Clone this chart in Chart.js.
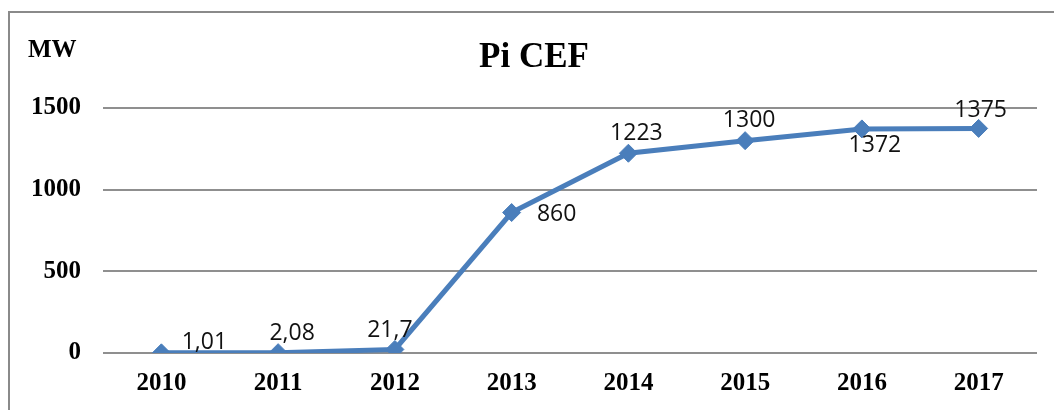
<!DOCTYPE html>
<html>
<head>
<meta charset="utf-8">
<title>Pi CEF</title>
<script src="https://cdn.jsdelivr.net/npm/chart.js@4/dist/chart.umd.min.js"></script>
<style>
  html, body { margin: 0; padding: 0; background: #fff; }
  canvas { display: block; }
</style>
</head>
<body>
<canvas id="cef-chart" width="1054" height="410"></canvas>
<script>
// installed capacity, MW
const years = ["2010", "2011", "2012", "2013", "2014", "2015", "2016", "2017"];
const capacity = [1.01, 2.08, 21.7, 860, 1223, 1300, 1372, 1375];
const yTicks = [0, 500, 1000, 1500];

// where each value label sits relative to its point (dx, dy in px)
const labelShift = [[43, -10], [14, -19], [-5, -19], [45, 2], [8, -20], [4, -20], [13, 17], [2, -18]];

const serif = "'Liberation Serif', 'Times New Roman', serif";
const lineBlue = "#4a7ebb";

// frame around the whole chart (runs off the right and bottom edge)
const framePlugin = {
    id: "frame",
    beforeDraw(chart) {
        const ctx = chart.ctx;
        ctx.save();
        ctx.fillStyle = "#fff";
        ctx.fillRect(0, 0, chart.width, chart.height);
        ctx.strokeStyle = "#8a8a8a";
        ctx.lineWidth = 2;
        ctx.strokeRect(9, 12, chart.width + 20, chart.height + 20);
        ctx.restore();
    }
};

// "MW" unit above the value axis + the value labels next to each point
const labelPlugin = {
    id: "pointLabels",
    afterDatasetsDraw(chart) {
        const ctx = chart.ctx;
        const area = chart.chartArea;
        ctx.save();
        ctx.fillStyle = "#000";
        ctx.font = "bold 25px " + serif;
        ctx.textAlign = "left";
        ctx.textBaseline = "alphabetic";
        ctx.fillText("MW", area.left - 75, area.top - 51);

        ctx.font = "23px 'Open Sans', 'Liberation Sans', sans-serif";
        ctx.textAlign = "center";
        ctx.textBaseline = "middle";
        ctx.fillStyle = "#111";
        const meta = chart.getDatasetMeta(0);
        meta.data.forEach(function (pt, i) {
            const txt = String(capacity[i]).replace(".", ",");
            ctx.fillText(txt, pt.x + labelShift[i][0], pt.y + labelShift[i][1]);
        });
        ctx.restore();
    }
};

new Chart("cef-chart", {
    type: "line",
    data: {
        labels: years,
        datasets: [{
            label: "Pi CEF",
            data: capacity,
            borderColor: lineBlue,
            backgroundColor: lineBlue,
            borderWidth: 5,
            tension: 0,
            fill: false,
            pointStyle: "rectRot",
            pointRadius: 9,
            pointHoverRadius: 9,
            pointBorderWidth: 1,
            pointBorderColor: lineBlue,
            pointBackgroundColor: lineBlue
        }]
    },
    options: {
        responsive: false,
        animation: false,
        layout: {
            padding: { left: 31, right: 17, top: 37, bottom: -5 }
        },
        plugins: {
            legend: { display: false },
            tooltip: { enabled: false },
            title: {
                display: true,
                text: "Pi CEF",
                color: "#000",
                font: { family: serif, size: 35, weight: "bold", lineHeight: 1.2 },
                padding: { top: 0, bottom: 29 }
            }
        },
        scales: {
            x: {
                offset: true,
                grid: { display: false, drawTicks: false },
                border: { display: false },
                ticks: {
                    color: "#000",
                    padding: 16,
                    maxRotation: 0,
                    font: { family: serif, size: 25, weight: "bold" }
                }
            },
            y: {
                min: yTicks[0],
                max: yTicks[yTicks.length - 1],
                afterBuildTicks(axis) {
                    axis.ticks = yTicks.map(v => ({ value: v }));
                },
                afterFit(axis) {
                    axis.width = 72;
                },
                grid: { color: "#8f8f8f", lineWidth: 2, drawTicks: false },
                border: { display: false },
                ticks: {
                    color: "#000",
                    padding: 22,
                    callback: v => String(v),
                    font: { family: serif, size: 25, weight: "bold" }
                }
            }
        }
    },
    plugins: [framePlugin, labelPlugin]
});
</script>
</body>
</html>
